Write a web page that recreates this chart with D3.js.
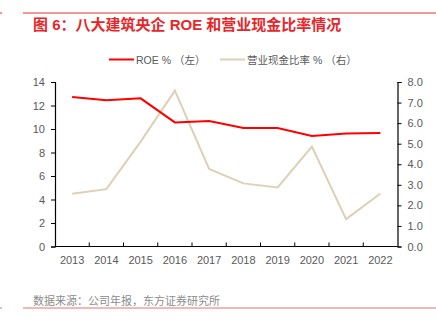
<!DOCTYPE html>
<html><head><meta charset="utf-8">
<script src="https://cdn.jsdelivr.net/npm/d3@7"></script>
<style>
html,body{margin:0;padding:0;background:#fff;}
svg text{font-family:"Liberation Sans","Noto Sans CJK SC",sans-serif;}
</style></head>
<body><svg id="c" width="436" height="323"></svg>
<script>
const years = ["2013","2014","2015","2016","2017","2018","2019","2020","2021","2022"];
const roe = [12.72, 12.44, 12.61, 10.56, 10.68, 10.08, 10.08, 9.40, 9.62, 9.66];
const cashRatio = [2.57, 2.79, 5.10, 7.58, 3.77, 3.07, 2.87, 4.86, 1.33, 2.58];
const leftTicks = [0,2,4,6,8,10,12,14];
const rightTicks = [0,1,2,3,4,5,6,7,8];
const title = "图 6：八大建筑央企 ROE 和营业现金比率情况";
const source = "数据来源：公司年报，东方证券研究所";
const legendNames = ["ROE % （左）", "营业现金比率 % （右）"];

const svg = d3.select("#c");
const L = 55, R = 397.5, T = 82, B = 246.5;
const red = "#ff0000", beige = "#ddd0b6", grey = "#595959";

// header/footer rules
svg.append("line").attr("x1",23).attr("x2",436).attr("y1",13).attr("y2",13).attr("stroke","#e8312f").attr("stroke-width",1);
svg.append("line").attr("x1",0).attr("x2",2).attr("y1",13).attr("y2",13).attr("stroke","#e8312f").attr("stroke-width",1);
svg.append("line").attr("x1",23).attr("x2",436).attr("y1",308).attr("y2",308).attr("stroke","#e57373").attr("stroke-width",1);
svg.append("line").attr("x1",0).attr("x2",2).attr("y1",308).attr("y2",308).attr("stroke","#e57373").attr("stroke-width",1);

svg.append("text").attr("x",33).attr("y",30).attr("fill","#e8262a").attr("font-size",15).attr("font-weight",600).text(title);
svg.append("text").attr("x",33).attr("y",305).attr("fill","#8c8c8c").attr("font-size",11).text(source);

const x = d3.scaleBand().domain(years).range([L,R]);
const yL = d3.scaleLinear().domain([0,14]).range([B,T]);
const yR = d3.scaleLinear().domain([0,8]).range([B,T]);

// axes
const ax = svg.append("g").attr("transform",`translate(0,${B})`);
ax.append("line").attr("x1",L).attr("x2",R).attr("stroke","#000").attr("stroke-width",1.2);
years.slice(1).forEach((d,i)=>{
  const xx = x(d);
  ax.append("line").attr("x1",xx).attr("x2",xx).attr("y1",0).attr("y2",-4).attr("stroke","#000");
});
years.forEach(d=>{
  ax.append("text").attr("x",x(d)+x.bandwidth()/2).attr("y",17).attr("text-anchor","middle")
    .attr("fill",grey).attr("font-size",11).text(d);
});

const gl = svg.append("g").attr("transform",`translate(${L},0)`)
  .call(d3.axisLeft(yL).tickValues(leftTicks).tickSize(4).tickPadding(6).tickFormat(d3.format("d")));
const gr = svg.append("g").attr("transform",`translate(${R},0)`)
  .call(d3.axisRight(yR).tickValues(rightTicks).tickSize(4).tickPadding(6).tickFormat(d3.format(".1f")));
[gl,gr].forEach(g=>{
  g.select(".domain").attr("stroke","#000").attr("stroke-width",1.2);
  g.selectAll(".tick line").attr("stroke","#000");
  g.selectAll(".tick text").attr("fill",grey).attr("font-size",11).attr("font-family","Liberation Sans, Noto Sans CJK SC, sans-serif");
});

const cx = d => x(d)+x.bandwidth()/2;
svg.append("path").datum(cashRatio).attr("fill","none").attr("stroke",beige).attr("stroke-width",2)
  .attr("d", d3.line().x((d,i)=>cx(years[i])).y(d=>yR(d)));
svg.append("path").datum(roe).attr("fill","none").attr("stroke",red).attr("stroke-width",2)
  .attr("d", d3.line().x((d,i)=>cx(years[i])).y(d=>yL(d)));

// legend
const lg = svg.append("g");
[[109,red],[220,beige]].forEach((p,i)=>{
  lg.append("line").attr("x1",p[0]).attr("x2",p[0]+25).attr("y1",59.5).attr("y2",59.5).attr("stroke",p[1]).attr("stroke-width",2);
  lg.append("text").attr("x",p[0]+27).attr("y",63.5).attr("fill",grey).attr("font-size",10.5).text(legendNames[i]);
});
</script></body></html>
